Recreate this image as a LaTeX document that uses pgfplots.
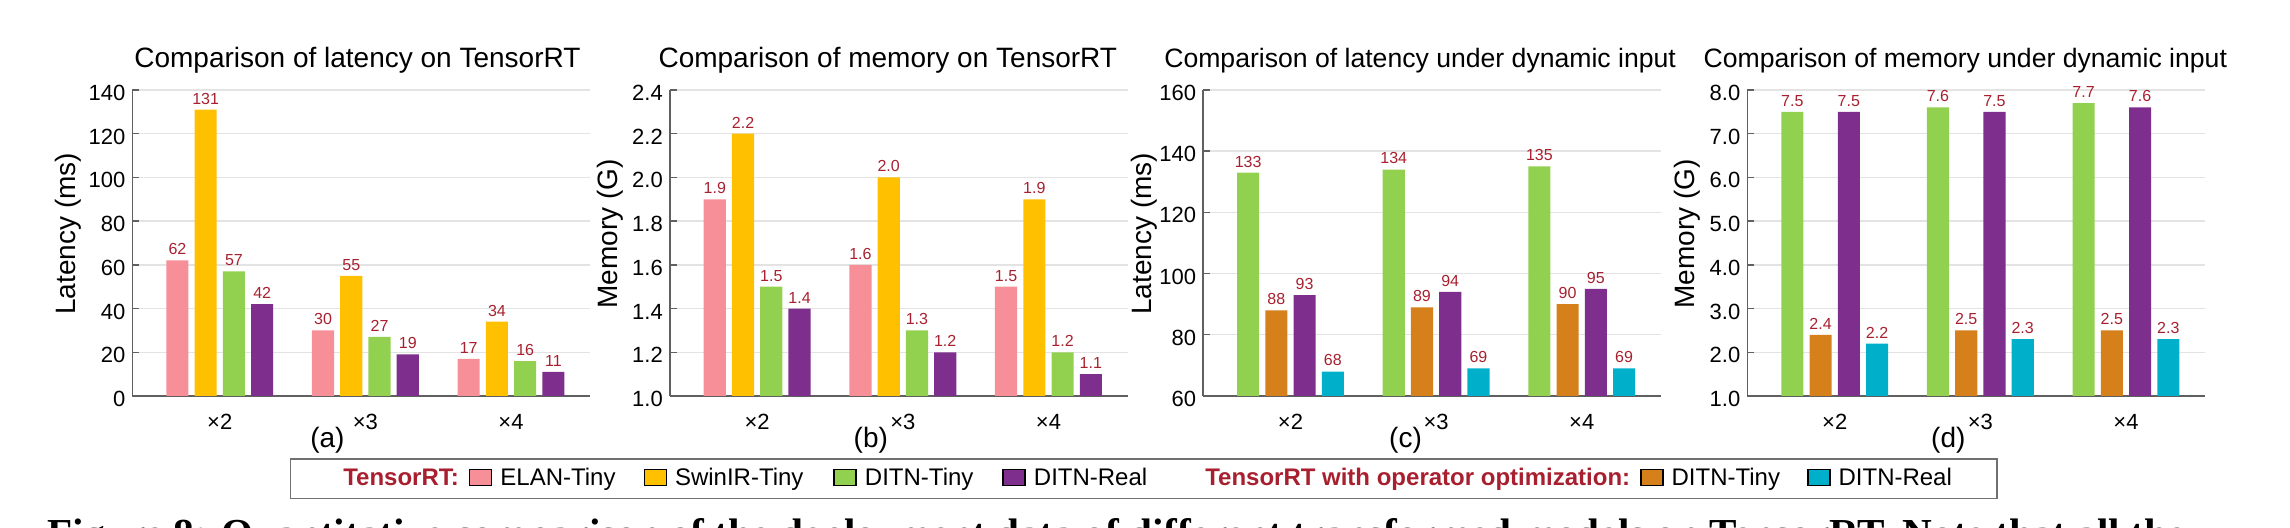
\documentclass[border=0pt]{standalone}
\usepackage{fontspec}
\setmainfont{Liberation Sans}
\newfontfamily\capfont{Liberation Serif}
\usepackage{pgfplots}
\pgfplotsset{compat=1.18}

\definecolor{elan}{HTML}{F78F98}
\definecolor{swin}{HTML}{FFC000}
\definecolor{ditnt}{HTML}{92D050}
\definecolor{ditnr}{HTML}{7E2F8E}
\definecolor{optt}{HTML}{D6801C}
\definecolor{optr}{HTML}{00B0CB}
\definecolor{valred}{HTML}{A8202F}
\definecolor{axgray}{HTML}{606060}
\definecolor{gridgray}{HTML}{E3E3E3}
\definecolor{boxgray}{HTML}{707070}

\pgfplotsset{
  /pgf/number format/assume math mode=true,
  panel/.style={
    scale only axis, width=229pt, height=153pt, anchor=south west,
    xmin=0.4, xmax=3.545, xtick={1,2,3}, xticklabels={×2,×3,×4},
    axis x line*=bottom, axis y line*=left,
    axis line style={-, draw=axgray, line width=0.7pt},
    ymajorgrids, grid style={draw=gridgray, line width=0.7pt},
    tick align=inside, major tick length=3.5pt,
    x tick style={draw=none}, y tick style={draw=axgray, line width=0.7pt},
    tick label style={font=\fontsize{11}{13}\selectfont},
    xticklabel style={anchor=base, yshift=-13.3pt},
    yticklabel style={yshift=-1.5pt},
    title style={font=\fontsize{14}{16}\selectfont, at={(0.5,1)}, anchor=base, yshift=5.2pt},
    xlabel style={font=\fontsize{14}{16}\selectfont, at={(axis description cs:0.5,0)},
      anchor=center, yshift=-22pt},
    ylabel style={font=\fontsize{14}{16}\selectfont, anchor=center},
    ybar, bar width=0.152,
    every axis plot/.append style={draw=none},
    nodes near coords,
    nodes near coords style={font=\fontsize{8}{9}\selectfont, text=valred, inner sep=0pt, anchor=south, yshift=2.5pt},
  },
  dec/.style={nodes near coords={\pgfmathprintnumber[fixed,fixed zerofill,precision=1]{\pgfplotspointmeta}}},
  s1/.style={bar shift=-0.291},
  s2/.style={bar shift=-0.097},
  s3/.style={bar shift=0.097},
  s4/.style={bar shift=0.291},
  legsq/.style={legend image code/.code={\fill[##1] (0pt,-3.5pt) rectangle (11pt,4.5pt);}},
}

\begin{document}
\begin{tikzpicture}
\useasboundingbox (0,0) rectangle (1145pt,264pt);

% (a) latency on TensorRT
\begin{axis}[panel, at={(66.2pt,66pt)},
  ymin=0, ymax=140, ytick={0,20,...,140},
  title={Comparison of latency on TensorRT}, title style={xshift=-2pt},
  xlabel={(a)}, xlabel style={xshift=-17pt},
  ylabel={Latency (ms)}, ylabel style={at={(axis description cs:-0.1397,0.53)}}]
\addplot[fill=elan, s1] coordinates {(1,62) (2,30) (3,17)};
\addplot[fill=swin, s2] coordinates {(1,131) (2,55) (3,34)};
\addplot[fill=ditnt, s3] coordinates {(1,57) (2,27) (3,16)};
\addplot[fill=ditnr, s4] coordinates {(1,42) (2,19) (3,11)};
\end{axis}

% (b) memory on TensorRT
\begin{axis}[panel, dec, at={(334.9pt,66pt)},
  ymin=1, ymax=2.4, ytick={1,1.2,...,2.41},
  yticklabel={\pgfmathprintnumber[fixed,fixed zerofill,precision=1]{\tick}},
  title={Comparison of memory on TensorRT}, title style={xshift=-5.5pt},
  xlabel={(b)}, xlabel style={xshift=-14pt},
  ylabel={Memory (G)}, ylabel style={at={(axis description cs:-0.131,0.53)}}]
\addplot[fill=elan, s1] coordinates {(1,1.9) (2,1.6) (3,1.5)};
\addplot[fill=swin, s2] coordinates {(1,2.2) (2,2.0) (3,1.9)};
\addplot[fill=ditnt, s3] coordinates {(1,1.5) (2,1.3) (3,1.2)};
\addplot[fill=ditnr, s4] coordinates {(1,1.4) (2,1.2) (3,1.1)};
\end{axis}

% (c) latency under dynamic input
\begin{axis}[panel, at={(601.55pt,66pt)},
  ymin=60, ymax=160, ytick={60,80,...,160},
  title={Comparison of latency under dynamic input},
  title style={xshift=-6pt, font=\fontsize{13.3}{16}\selectfont},
  xlabel={(c)}, xlabel style={xshift=-13.3pt},
  ylabel={Latency (ms)}, ylabel style={at={(axis description cs:-0.128,0.53)}}]
\addplot[fill=ditnt, s1] coordinates {(1,133) (2,134) (3,135)};
\addplot[fill=optt, s2] coordinates {(1,88) (2,89) (3,90)};
\addplot[fill=ditnr, s3] coordinates {(1,93) (2,94) (3,95)};
\addplot[fill=optr, s4] coordinates {(1,68) (2,69) (3,69)};
\end{axis}

% (d) memory under dynamic input
\begin{axis}[panel, dec, at={(873.65pt,66pt)},
  ymin=1, ymax=8, ytick={1,2,...,8},
  yticklabel={\pgfmathprintnumber[fixed,fixed zerofill,precision=1]{\tick}},
  title={Comparison of memory under dynamic input},
  title style={xshift=-5.5pt, font=\fontsize{13.3}{16}\selectfont},
  xlabel={(d)}, xlabel style={xshift=-14pt},
  ylabel={Memory (G)}, ylabel style={at={(axis description cs:-0.131,0.53)}}]
\addplot[fill=ditnt, s1] coordinates {(1,7.5) (2,7.6) (3,7.7)};
\addplot[fill=optt, s2] coordinates {(1,2.4) (2,2.5) (3,2.5)};
\addplot[fill=ditnr, s3] coordinates {(1,7.5) (2,7.5) (3,7.6)};
\addplot[fill=optr, s4] coordinates {(1,2.2) (2,2.3) (3,2.3)};
\end{axis}

% shared legend
\begin{axis}[hide axis, scale only axis, width=1145pt, height=264pt,
  at={(0pt,0pt)}, anchor=south west, xmin=0, xmax=1, ymin=0, ymax=1,
  legend columns=8,
  legend style={at={(0.4994,0.0934)}, anchor=center, draw=boxgray, line width=0.75pt,
    inner xsep=22.5pt, inner ysep=4pt, font=\fontsize{12}{14}\selectfont,
    nodes={inner sep=0pt, text height=9pt, text depth=2.6pt},
    /tikz/every odd column/.style={column sep=4pt},
    /tikz/column 1/.style={column sep=0pt},
    /tikz/column 2/.style={column sep=5pt},
    /tikz/column 4/.style={column sep=14pt},
    /tikz/column 6/.style={column sep=15pt},
    /tikz/column 8/.style={column sep=14.5pt},
    /tikz/column 10/.style={column sep=25pt},
    /tikz/column 11/.style={column sep=0pt},
    /tikz/column 12/.style={column sep=5pt},
    /tikz/column 14/.style={column sep=13.5pt}}]
\addlegendimage{empty legend}
\addlegendentry{\textbf{\textcolor{valred}{TensorRT:}}}
\addlegendimage{legsq, fill=elan}
\addlegendentry{ELAN-Tiny}
\addlegendimage{legsq, fill=swin}
\addlegendentry{SwinIR-Tiny}
\addlegendimage{legsq, fill=ditnt}
\addlegendentry{DITN-Tiny}
\addlegendimage{legsq, fill=ditnr}
\addlegendentry{DITN-Real}
\addlegendimage{empty legend}
\addlegendentry{\textbf{\textcolor{valred}{TensorRT with operator optimization:}}}
\addlegendimage{legsq, fill=optt}
\addlegendentry{DITN-Tiny}
\addlegendimage{legsq, fill=optr}
\addlegendentry{DITN-Real}
\end{axis}

% caption, cut off by the page edge as in the screenshot
\node[anchor=base west, inner sep=0pt, font=\capfont\bfseries\fontsize{20.6}{24}\selectfont]
  at (23.5pt,-10pt) {Figure 8: Quantitative comparison of the deployment data of different transformed models on TensorRT. Note that all the};
\end{tikzpicture}
\end{document}
